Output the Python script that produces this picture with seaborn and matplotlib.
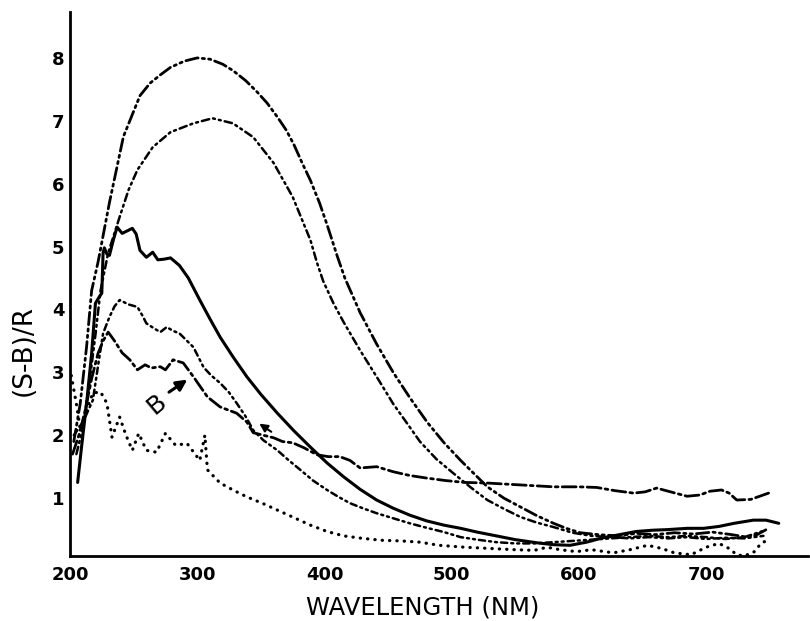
import matplotlib
matplotlib.use('Agg')
import matplotlib.pyplot as plt
import seaborn as sns

sns.set_style('white')
plt.rcParams['font.family'] = ['DejaVu Sans']
plt.rcParams['text.color'] = 'black'
plt.rcParams['axes.labelcolor'] = 'black'
plt.rcParams['xtick.color'] = 'black'
plt.rcParams['ytick.color'] = 'black'

# curve A: top curve, peak ~8 at 300 nm (long dash, two dots)
wl_a = [203, 208, 213, 217, 222, 231, 242, 255, 263, 271, 279, 290, 300, 310, 320,
        328, 338, 347, 355, 363, 370, 376, 382, 389, 396, 402, 410, 416, 428, 441,
        454, 467, 481, 494, 507, 518, 528, 541, 554, 567, 580, 590, 601, 615, 630,
        645, 660, 675, 690, 705, 720, 732, 740, 749]
val_a = [1.9, 2.5, 3.4, 4.3, 4.75, 5.7, 6.75, 7.4, 7.6, 7.73, 7.85, 7.95, 8.0, 7.98, 7.9,
         7.8, 7.64, 7.46, 7.28, 7.06, 6.85, 6.62, 6.35, 6.05, 5.7, 5.35, 4.85, 4.5, 3.95, 3.45,
         3.0, 2.6, 2.2, 1.88, 1.6, 1.38, 1.18, 1.0, 0.86, 0.72, 0.6, 0.52, 0.45, 0.42, 0.4,
         0.44, 0.42, 0.45, 0.43, 0.46, 0.42, 0.38, 0.42, 0.52]

# curve B: peak ~7 at 310 nm
wl_b = [205, 210, 215, 220, 224, 230, 239, 246, 253, 265, 279, 297, 312, 328, 344,
        360, 375, 389, 394, 399, 407, 415, 428, 441, 454, 467, 475, 488, 501, 515,
        528, 541, 554, 567, 580, 595, 610, 625, 640, 655, 670, 685, 700, 715, 730, 745]
val_b = [1.7, 2.1, 2.8, 3.6, 4.3, 4.9, 5.47, 5.9, 6.22, 6.58, 6.82, 6.96, 7.04, 6.96, 6.74,
         6.33, 5.79, 5.1, 4.75, 4.45, 4.1, 3.8, 3.35, 2.93, 2.5, 2.13, 1.9, 1.62, 1.4, 1.17,
         0.97, 0.83, 0.7, 0.61, 0.54, 0.45, 0.4, 0.38, 0.36, 0.38, 0.36, 0.38, 0.35, 0.37, 0.36, 0.4]

# curve C: solid, wiggly peak ~5.3
wl_c = [206, 209, 213, 217, 220, 223, 225, 226, 227, 229, 231, 234, 237, 241, 245,
        249, 252, 255, 260, 265, 269, 274, 279, 286, 293, 302, 310, 318, 328, 339,
        350, 363, 376, 389, 402, 415, 428, 441, 454, 467, 480, 494, 507, 520, 535,
        550, 567, 580, 593, 606, 619, 632, 645, 658, 670, 685, 698, 710, 722, 737, 747, 757]
val_c = [1.25, 1.8, 2.5, 3.3, 4.1, 4.2, 4.26, 4.9, 4.98, 4.88, 4.86, 5.1, 5.31, 5.21, 5.25,
         5.29, 5.2, 4.94, 4.83, 4.91, 4.79, 4.8, 4.82, 4.7, 4.5, 4.15, 3.85, 3.56, 3.25, 2.93,
         2.65, 2.35, 2.07, 1.81, 1.56, 1.34, 1.14, 0.97, 0.84, 0.73, 0.64, 0.57, 0.52, 0.46, 0.4,
         0.34, 0.29, 0.26, 0.25, 0.3, 0.37, 0.42, 0.47, 0.49, 0.5, 0.52, 0.52, 0.55, 0.6, 0.65, 0.65, 0.6]

# curve D: peak ~4.1 at 239 nm, falls steeply after 345 nm
wl_d = [203, 210, 218, 222, 226, 231, 235, 239, 246, 253, 257, 260, 266, 271, 276,
        281, 286, 292, 297, 305, 311, 318, 325, 331, 338, 344, 352, 363, 372, 381,
        391, 402, 411, 420, 430, 441, 454, 467, 480, 494, 507, 520, 535, 550, 565,
        580, 595, 610, 625, 640, 655, 670, 685, 700, 715, 730, 745]
val_d = [2.0, 2.2, 2.56, 3.1, 3.62, 3.88, 4.05, 4.15, 4.08, 4.04, 3.9, 3.78, 3.7, 3.64, 3.72,
         3.66, 3.62, 3.5, 3.4, 3.08, 2.95, 2.83, 2.68, 2.51, 2.3, 2.08, 1.92, 1.76, 1.6, 1.45,
         1.28, 1.13, 1.02, 0.92, 0.84, 0.76, 0.68, 0.6, 0.53, 0.46, 0.38, 0.34, 0.3, 0.28, 0.28,
         0.3, 0.32, 0.34, 0.36, 0.38, 0.4, 0.38, 0.4, 0.38, 0.35, 0.38, 0.48]

# curve E: peak ~3.6 (marked B), flat ~1.1 in the red
wl_e = [202, 207, 212, 217, 222, 226, 230, 235, 241, 247, 253, 259, 264, 271, 275,
        281, 289, 297, 308, 318, 331, 339, 344, 352, 360, 367, 375, 384, 394, 403,
        412, 420, 428, 441, 454, 467, 480, 495, 510, 528, 554, 580, 600, 614, 628,
        643, 652, 661, 672, 685, 695, 703, 712, 718, 724, 735, 749]
val_e = [1.7, 2.0, 2.4, 2.9, 3.3, 3.5, 3.64, 3.5, 3.31, 3.2, 3.04, 3.12, 3.07, 3.09, 3.04,
         3.2, 3.15, 2.93, 2.61, 2.45, 2.35, 2.21, 2.04, 2.0, 1.96, 1.9, 1.88, 1.8, 1.69, 1.66,
         1.66, 1.6, 1.48, 1.5, 1.42, 1.36, 1.32, 1.28, 1.25, 1.24, 1.21, 1.18, 1.18, 1.17, 1.12,
         1.08, 1.1, 1.16, 1.1, 1.03, 1.05, 1.11, 1.13, 1.08, 0.97, 0.98, 1.08]

# curve G: dotted, lowest
wl_g = [201, 205, 208, 213, 218, 224, 229, 233, 239, 244, 249, 254, 260, 268, 275,
        283, 292, 302, 305, 306, 308, 318, 329, 339, 351, 363, 376, 389, 402, 415,
        430, 445, 460, 475, 490, 510, 530, 550, 565, 575, 585, 598, 610, 627, 640,
        654, 665, 675, 688, 700, 710, 718, 724, 730, 738, 743, 748]
val_g = [2.95, 2.5, 2.1, 2.4, 2.67, 2.69, 2.51, 1.97, 2.29, 2.0, 1.76, 2.03, 1.76, 1.73, 2.03,
         1.84, 1.87, 1.6, 1.9, 2.0, 1.45, 1.24, 1.12, 1.02, 0.92, 0.81, 0.69, 0.57, 0.47, 0.4,
         0.36, 0.33, 0.32, 0.3, 0.25, 0.22, 0.2, 0.18, 0.17, 0.22, 0.18, 0.15, 0.18, 0.13, 0.18,
         0.25, 0.2, 0.13, 0.1, 0.22, 0.28, 0.2, 0.1, 0.08, 0.15, 0.28, 0.33]

x_ticks = [200, 300, 400, 500, 600, 700]
y_ticks = [1, 2, 3, 4, 5, 6, 7, 8]

fig = plt.figure(figsize=(8.1, 6.21), dpi=100)
ax = fig.add_axes([70 / 810, 65 / 621, 738 / 810, 544 / 621])

curves = [
    (wl_a, val_a, 2.0, (4.5, 1.5, 0.8, 1.5, 0.8, 1.5)),
    (wl_b, val_b, 1.8, (3, 1.6, 0.8, 1.6, 0.8, 1.6)),
    (wl_c, val_c, 2.2, None),
    (wl_d, val_d, 1.8, (2.5, 1.6, 0.8, 1.6, 0.8, 1.6)),
    (wl_e, val_e, 2.0, (5, 1.5, 1, 1.5)),
    (wl_g, val_g, 2.3, (0.1, 2.2)),
]
for wl, val, lw, dash in curves:
    ls = '-' if dash is None else (0, dash)
    sns.lineplot(x=wl, y=val, ax=ax, color='black', lw=lw, linestyle=ls,
                 sort=False, estimator=None)
    ax.lines[-1].set_dash_capstyle('round')

# label B with arrow
ax.annotate('', xy=(294, 2.91), xytext=(276, 2.66),
            arrowprops=dict(arrowstyle='-|>', color='black', lw=2.2, mutation_scale=16))
ax.text(268, 2.5, 'B', fontsize=18, rotation=40, ha='center', va='center')
ax.annotate('', xy=(347, 2.21), xytext=(360, 2.03),
            arrowprops=dict(arrowstyle='-|>', color='black', lw=1.5, mutation_scale=12))

ax.set_xlim(200, 780)
ax.set_ylim(0.08, 8.73)
ax.set_xticks(x_ticks)
ax.set_yticks(y_ticks)
ax.tick_params(direction='in', length=6, width=1.5, labelsize=13, pad=7)
ax.tick_params(axis='y', pad=4)
for lab in ax.get_xticklabels() + ax.get_yticklabels():
    lab.set_fontweight('bold')

sns.despine(ax=ax)
for s in ['left', 'bottom']:
    ax.spines[s].set_linewidth(2)
    ax.spines[s].set_color('black')

ax.set_xlabel('WAVELENGTH (NM)', fontsize=17.5)
ax.set_ylabel('(S-B)/R', fontsize=19)
ax.xaxis.set_label_coords((423 - 70) / 738, -39 / 544)
ax.yaxis.set_label_coords(-33 / 738, (556 - 350) / 544)

fig.savefig('out.png', dpi=100)
